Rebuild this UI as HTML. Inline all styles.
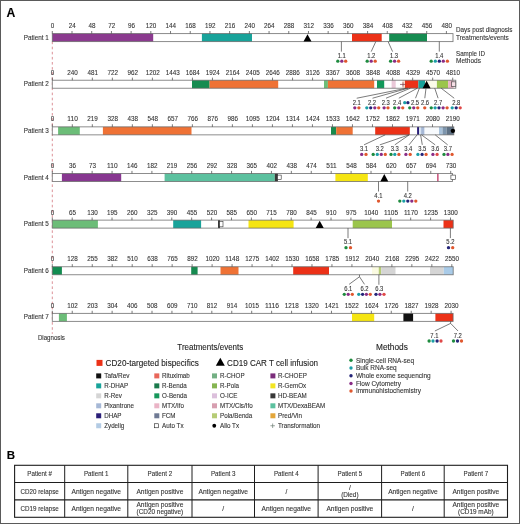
<!DOCTYPE html>
<html><head><meta charset="utf-8"><style>
html,body{margin:0;padding:0;background:#fff;width:520px;height:524px;overflow:hidden;}
svg{display:block;filter:blur(0.3px);}
text{font-family:"Liberation Sans", sans-serif;stroke:currentColor;stroke-width:0.1px;}
</style></head><body>
<svg width="520" height="524" viewBox="0 0 520 524" font-family='"Liberation Sans", sans-serif'><rect x="0" y="0" width="520" height="524" fill="#fff"/><line x1="52.3" y1="41.6" x2="52.3" y2="333.8" stroke="#d47c84" stroke-width="0.85" stroke-dasharray="2.6,2.5"/><text x="48.80" y="39.70" font-size="6.7" text-anchor="end" fill="#333" color="#333" font-weight="normal"  textLength="24.99" lengthAdjust="spacingAndGlyphs">Patient 1</text><rect x="52.3" y="33.6" width="400.70" height="8.0" fill="#fff"/><rect x="52.30" y="33.6" width="100.90" height="8.0" fill="#8b3a8f"/><rect x="201.90" y="33.6" width="50.10" height="8.0" fill="#18a39a"/><rect x="352.00" y="33.6" width="29.70" height="8.0" fill="#ec3117"/><rect x="389.20" y="33.6" width="37.80" height="8.0" fill="#168c51"/><rect x="52.3" y="33.6" width="400.70" height="8.0" fill="none" stroke="#6a6a6a" stroke-width="0.9" stroke-opacity="0.85"/><line x1="52.30" y1="31.00" x2="52.30" y2="33.60" stroke="#444" stroke-width="0.7"/><text x="52.60" y="28.15" font-size="7.0" text-anchor="middle" fill="#333" color="#333" font-weight="normal"  textLength="3.50" lengthAdjust="spacingAndGlyphs">0</text><line x1="72.00" y1="31.00" x2="72.00" y2="33.60" stroke="#444" stroke-width="0.7"/><text x="72.30" y="28.15" font-size="7.0" text-anchor="middle" fill="#333" color="#333" font-weight="normal"  textLength="7.01" lengthAdjust="spacingAndGlyphs">24</text><line x1="91.71" y1="31.00" x2="91.71" y2="33.60" stroke="#444" stroke-width="0.7"/><text x="92.01" y="28.15" font-size="7.0" text-anchor="middle" fill="#333" color="#333" font-weight="normal"  textLength="7.01" lengthAdjust="spacingAndGlyphs">48</text><line x1="111.41" y1="31.00" x2="111.41" y2="33.60" stroke="#444" stroke-width="0.7"/><text x="111.71" y="28.15" font-size="7.0" text-anchor="middle" fill="#333" color="#333" font-weight="normal"  textLength="7.01" lengthAdjust="spacingAndGlyphs">72</text><line x1="131.12" y1="31.00" x2="131.12" y2="33.60" stroke="#444" stroke-width="0.7"/><text x="131.42" y="28.15" font-size="7.0" text-anchor="middle" fill="#333" color="#333" font-weight="normal"  textLength="7.01" lengthAdjust="spacingAndGlyphs">96</text><line x1="150.82" y1="31.00" x2="150.82" y2="33.60" stroke="#444" stroke-width="0.7"/><text x="151.12" y="28.15" font-size="7.0" text-anchor="middle" fill="#333" color="#333" font-weight="normal"  textLength="10.51" lengthAdjust="spacingAndGlyphs">120</text><line x1="170.53" y1="31.00" x2="170.53" y2="33.60" stroke="#444" stroke-width="0.7"/><text x="170.83" y="28.15" font-size="7.0" text-anchor="middle" fill="#333" color="#333" font-weight="normal"  textLength="10.51" lengthAdjust="spacingAndGlyphs">144</text><line x1="190.24" y1="31.00" x2="190.24" y2="33.60" stroke="#444" stroke-width="0.7"/><text x="190.54" y="28.15" font-size="7.0" text-anchor="middle" fill="#333" color="#333" font-weight="normal"  textLength="10.51" lengthAdjust="spacingAndGlyphs">168</text><line x1="209.94" y1="31.00" x2="209.94" y2="33.60" stroke="#444" stroke-width="0.7"/><text x="210.24" y="28.15" font-size="7.0" text-anchor="middle" fill="#333" color="#333" font-weight="normal"  textLength="10.51" lengthAdjust="spacingAndGlyphs">192</text><line x1="229.64" y1="31.00" x2="229.64" y2="33.60" stroke="#444" stroke-width="0.7"/><text x="229.94" y="28.15" font-size="7.0" text-anchor="middle" fill="#333" color="#333" font-weight="normal"  textLength="10.51" lengthAdjust="spacingAndGlyphs">216</text><line x1="249.35" y1="31.00" x2="249.35" y2="33.60" stroke="#444" stroke-width="0.7"/><text x="249.65" y="28.15" font-size="7.0" text-anchor="middle" fill="#333" color="#333" font-weight="normal"  textLength="10.51" lengthAdjust="spacingAndGlyphs">240</text><line x1="269.06" y1="31.00" x2="269.06" y2="33.60" stroke="#444" stroke-width="0.7"/><text x="269.36" y="28.15" font-size="7.0" text-anchor="middle" fill="#333" color="#333" font-weight="normal"  textLength="10.51" lengthAdjust="spacingAndGlyphs">264</text><line x1="288.76" y1="31.00" x2="288.76" y2="33.60" stroke="#444" stroke-width="0.7"/><text x="289.06" y="28.15" font-size="7.0" text-anchor="middle" fill="#333" color="#333" font-weight="normal"  textLength="10.51" lengthAdjust="spacingAndGlyphs">288</text><line x1="308.46" y1="31.00" x2="308.46" y2="33.60" stroke="#444" stroke-width="0.7"/><text x="308.76" y="28.15" font-size="7.0" text-anchor="middle" fill="#333" color="#333" font-weight="normal"  textLength="10.51" lengthAdjust="spacingAndGlyphs">312</text><line x1="328.17" y1="31.00" x2="328.17" y2="33.60" stroke="#444" stroke-width="0.7"/><text x="328.47" y="28.15" font-size="7.0" text-anchor="middle" fill="#333" color="#333" font-weight="normal"  textLength="10.51" lengthAdjust="spacingAndGlyphs">336</text><line x1="347.88" y1="31.00" x2="347.88" y2="33.60" stroke="#444" stroke-width="0.7"/><text x="348.18" y="28.15" font-size="7.0" text-anchor="middle" fill="#333" color="#333" font-weight="normal"  textLength="10.51" lengthAdjust="spacingAndGlyphs">360</text><line x1="367.58" y1="31.00" x2="367.58" y2="33.60" stroke="#444" stroke-width="0.7"/><text x="367.88" y="28.15" font-size="7.0" text-anchor="middle" fill="#333" color="#333" font-weight="normal"  textLength="10.51" lengthAdjust="spacingAndGlyphs">384</text><line x1="387.28" y1="31.00" x2="387.28" y2="33.60" stroke="#444" stroke-width="0.7"/><text x="387.58" y="28.15" font-size="7.0" text-anchor="middle" fill="#333" color="#333" font-weight="normal"  textLength="10.51" lengthAdjust="spacingAndGlyphs">408</text><line x1="406.99" y1="31.00" x2="406.99" y2="33.60" stroke="#444" stroke-width="0.7"/><text x="407.29" y="28.15" font-size="7.0" text-anchor="middle" fill="#333" color="#333" font-weight="normal"  textLength="10.51" lengthAdjust="spacingAndGlyphs">432</text><line x1="426.69" y1="31.00" x2="426.69" y2="33.60" stroke="#444" stroke-width="0.7"/><text x="427.00" y="28.15" font-size="7.0" text-anchor="middle" fill="#333" color="#333" font-weight="normal"  textLength="10.51" lengthAdjust="spacingAndGlyphs">456</text><line x1="446.40" y1="31.00" x2="446.40" y2="33.60" stroke="#444" stroke-width="0.7"/><text x="446.70" y="28.15" font-size="7.0" text-anchor="middle" fill="#333" color="#333" font-weight="normal"  textLength="10.51" lengthAdjust="spacingAndGlyphs">480</text><polygon points="303.50,41.60 311.50,41.60 307.50,34.20" fill="#000"/><line x1="341.40" y1="41.60" x2="341.40" y2="51.60" stroke="#444" stroke-width="0.7"/><text x="341.70" y="57.90" font-size="6.6" text-anchor="middle" fill="#333" color="#333" font-weight="normal"  textLength="8.13" lengthAdjust="spacingAndGlyphs">1.1</text><circle cx="337.80" cy="61.20" r="1.65" fill="#1e8b3e"/><circle cx="341.80" cy="61.20" r="1.65" fill="#8a2c86"/><circle cx="345.70" cy="61.20" r="1.65" fill="#e0572e"/><line x1="375.80" y1="41.60" x2="371.20" y2="51.60" stroke="#444" stroke-width="0.7"/><text x="371.20" y="57.90" font-size="6.6" text-anchor="middle" fill="#333" color="#333" font-weight="normal"  textLength="8.13" lengthAdjust="spacingAndGlyphs">1.2</text><circle cx="367.20" cy="61.20" r="1.65" fill="#1e8b3e"/><circle cx="371.20" cy="61.20" r="1.65" fill="#8a2c86"/><circle cx="375.20" cy="61.20" r="1.65" fill="#e0572e"/><line x1="388.10" y1="41.60" x2="392.60" y2="51.60" stroke="#444" stroke-width="0.7"/><text x="394.00" y="57.90" font-size="6.6" text-anchor="middle" fill="#333" color="#333" font-weight="normal"  textLength="8.13" lengthAdjust="spacingAndGlyphs">1.3</text><circle cx="390.60" cy="61.20" r="1.65" fill="#1e8b3e"/><circle cx="394.60" cy="61.20" r="1.65" fill="#8a2c86"/><circle cx="398.60" cy="61.20" r="1.65" fill="#e0572e"/><line x1="439.30" y1="41.60" x2="439.30" y2="51.60" stroke="#444" stroke-width="0.7"/><text x="439.30" y="57.90" font-size="6.6" text-anchor="middle" fill="#333" color="#333" font-weight="normal"  textLength="8.13" lengthAdjust="spacingAndGlyphs">1.4</text><circle cx="431.20" cy="61.20" r="1.65" fill="#1e8b3e"/><circle cx="435.30" cy="61.20" r="1.65" fill="#1b9fa6"/><circle cx="439.30" cy="61.20" r="1.65" fill="#242478"/><circle cx="443.30" cy="61.20" r="1.65" fill="#8a2c86"/><circle cx="447.40" cy="61.20" r="1.65" fill="#e0572e"/><text x="48.80" y="86.33" font-size="6.7" text-anchor="end" fill="#333" color="#333" font-weight="normal"  textLength="24.99" lengthAdjust="spacingAndGlyphs">Patient 2</text><rect x="52.3" y="80.23" width="403.50" height="8.0" fill="#fff"/><rect x="192.00" y="80.23" width="17.60" height="8.0" fill="#168c51"/><rect x="209.60" y="80.23" width="68.60" height="8.0" fill="#ef7235"/><rect x="324.00" y="80.23" width="3.90" height="8.0" fill="#6cbd78"/><rect x="327.90" y="80.23" width="46.30" height="8.0" fill="#ef7235"/><rect x="377.00" y="80.23" width="7.20" height="8.0" fill="#12995a"/><rect x="391.60" y="80.23" width="4.10" height="8.0" fill="#eac8d8"/><rect x="402.30" y="80.23" width="2.70" height="8.0" fill="#f8d9c9"/><rect x="405.00" y="80.23" width="13.40" height="8.0" fill="#ec3117"/><rect x="418.40" y="80.23" width="6.60" height="8.0" fill="#18a39a"/><rect x="425.00" y="80.23" width="11.90" height="8.0" fill="#fbfbe8"/><rect x="436.90" y="80.23" width="11.20" height="8.0" fill="#9bc54c"/><rect x="448.10" y="80.23" width="5.40" height="8.0" fill="#eab4c6"/><rect x="52.3" y="80.23" width="403.50" height="8.0" fill="none" stroke="#6a6a6a" stroke-width="0.9" stroke-opacity="0.85"/><line x1="52.30" y1="77.63" x2="52.30" y2="80.23" stroke="#444" stroke-width="0.7"/><text x="52.60" y="74.78" font-size="7.0" text-anchor="middle" fill="#333" color="#333" font-weight="normal"  textLength="3.50" lengthAdjust="spacingAndGlyphs">0</text><line x1="72.32" y1="77.63" x2="72.32" y2="80.23" stroke="#444" stroke-width="0.7"/><text x="72.62" y="74.78" font-size="7.0" text-anchor="middle" fill="#333" color="#333" font-weight="normal"  textLength="10.51" lengthAdjust="spacingAndGlyphs">240</text><line x1="92.34" y1="77.63" x2="92.34" y2="80.23" stroke="#444" stroke-width="0.7"/><text x="92.64" y="74.78" font-size="7.0" text-anchor="middle" fill="#333" color="#333" font-weight="normal"  textLength="10.51" lengthAdjust="spacingAndGlyphs">481</text><line x1="112.36" y1="77.63" x2="112.36" y2="80.23" stroke="#444" stroke-width="0.7"/><text x="112.66" y="74.78" font-size="7.0" text-anchor="middle" fill="#333" color="#333" font-weight="normal"  textLength="10.51" lengthAdjust="spacingAndGlyphs">722</text><line x1="132.38" y1="77.63" x2="132.38" y2="80.23" stroke="#444" stroke-width="0.7"/><text x="132.68" y="74.78" font-size="7.0" text-anchor="middle" fill="#333" color="#333" font-weight="normal"  textLength="10.51" lengthAdjust="spacingAndGlyphs">962</text><line x1="152.40" y1="77.63" x2="152.40" y2="80.23" stroke="#444" stroke-width="0.7"/><text x="152.70" y="74.78" font-size="7.0" text-anchor="middle" fill="#333" color="#333" font-weight="normal"  textLength="14.02" lengthAdjust="spacingAndGlyphs">1202</text><line x1="172.42" y1="77.63" x2="172.42" y2="80.23" stroke="#444" stroke-width="0.7"/><text x="172.72" y="74.78" font-size="7.0" text-anchor="middle" fill="#333" color="#333" font-weight="normal"  textLength="14.02" lengthAdjust="spacingAndGlyphs">1443</text><line x1="192.44" y1="77.63" x2="192.44" y2="80.23" stroke="#444" stroke-width="0.7"/><text x="192.74" y="74.78" font-size="7.0" text-anchor="middle" fill="#333" color="#333" font-weight="normal"  textLength="14.02" lengthAdjust="spacingAndGlyphs">1684</text><line x1="212.46" y1="77.63" x2="212.46" y2="80.23" stroke="#444" stroke-width="0.7"/><text x="212.76" y="74.78" font-size="7.0" text-anchor="middle" fill="#333" color="#333" font-weight="normal"  textLength="14.02" lengthAdjust="spacingAndGlyphs">1924</text><line x1="232.48" y1="77.63" x2="232.48" y2="80.23" stroke="#444" stroke-width="0.7"/><text x="232.78" y="74.78" font-size="7.0" text-anchor="middle" fill="#333" color="#333" font-weight="normal"  textLength="14.02" lengthAdjust="spacingAndGlyphs">2164</text><line x1="252.50" y1="77.63" x2="252.50" y2="80.23" stroke="#444" stroke-width="0.7"/><text x="252.80" y="74.78" font-size="7.0" text-anchor="middle" fill="#333" color="#333" font-weight="normal"  textLength="14.02" lengthAdjust="spacingAndGlyphs">2405</text><line x1="272.52" y1="77.63" x2="272.52" y2="80.23" stroke="#444" stroke-width="0.7"/><text x="272.82" y="74.78" font-size="7.0" text-anchor="middle" fill="#333" color="#333" font-weight="normal"  textLength="14.02" lengthAdjust="spacingAndGlyphs">2646</text><line x1="292.54" y1="77.63" x2="292.54" y2="80.23" stroke="#444" stroke-width="0.7"/><text x="292.84" y="74.78" font-size="7.0" text-anchor="middle" fill="#333" color="#333" font-weight="normal"  textLength="14.02" lengthAdjust="spacingAndGlyphs">2886</text><line x1="312.56" y1="77.63" x2="312.56" y2="80.23" stroke="#444" stroke-width="0.7"/><text x="312.86" y="74.78" font-size="7.0" text-anchor="middle" fill="#333" color="#333" font-weight="normal"  textLength="14.02" lengthAdjust="spacingAndGlyphs">3126</text><line x1="332.58" y1="77.63" x2="332.58" y2="80.23" stroke="#444" stroke-width="0.7"/><text x="332.88" y="74.78" font-size="7.0" text-anchor="middle" fill="#333" color="#333" font-weight="normal"  textLength="14.02" lengthAdjust="spacingAndGlyphs">3367</text><line x1="352.60" y1="77.63" x2="352.60" y2="80.23" stroke="#444" stroke-width="0.7"/><text x="352.90" y="74.78" font-size="7.0" text-anchor="middle" fill="#333" color="#333" font-weight="normal"  textLength="14.02" lengthAdjust="spacingAndGlyphs">3608</text><line x1="372.62" y1="77.63" x2="372.62" y2="80.23" stroke="#444" stroke-width="0.7"/><text x="372.92" y="74.78" font-size="7.0" text-anchor="middle" fill="#333" color="#333" font-weight="normal"  textLength="14.02" lengthAdjust="spacingAndGlyphs">3848</text><line x1="392.64" y1="77.63" x2="392.64" y2="80.23" stroke="#444" stroke-width="0.7"/><text x="392.94" y="74.78" font-size="7.0" text-anchor="middle" fill="#333" color="#333" font-weight="normal"  textLength="14.02" lengthAdjust="spacingAndGlyphs">4088</text><line x1="412.66" y1="77.63" x2="412.66" y2="80.23" stroke="#444" stroke-width="0.7"/><text x="412.96" y="74.78" font-size="7.0" text-anchor="middle" fill="#333" color="#333" font-weight="normal"  textLength="14.02" lengthAdjust="spacingAndGlyphs">4329</text><line x1="432.68" y1="77.63" x2="432.68" y2="80.23" stroke="#444" stroke-width="0.7"/><text x="432.98" y="74.78" font-size="7.0" text-anchor="middle" fill="#333" color="#333" font-weight="normal"  textLength="14.02" lengthAdjust="spacingAndGlyphs">4570</text><line x1="452.70" y1="77.63" x2="452.70" y2="80.23" stroke="#444" stroke-width="0.7"/><text x="453.00" y="74.78" font-size="7.0" text-anchor="middle" fill="#333" color="#333" font-weight="normal"  textLength="14.02" lengthAdjust="spacingAndGlyphs">4810</text><rect x="451.50" y="81.83" width="4.30" height="4.6" fill="#f6dfe6" stroke="#333" stroke-width="0.6"/><polygon points="422.60,88.23 430.60,88.23 426.60,80.83" fill="#000"/><path d="M400.00,84.43H405.50M403.00,82.23V86.63" stroke="#7a3848" stroke-width="0.7"/><line x1="406.50" y1="88.23" x2="356.70" y2="98.23" stroke="#444" stroke-width="0.7"/><text x="356.70" y="104.53" font-size="6.6" text-anchor="middle" fill="#333" color="#333" font-weight="normal"  textLength="8.13" lengthAdjust="spacingAndGlyphs">2.1</text><circle cx="354.80" cy="107.83" r="1.65" fill="#8a2c86"/><circle cx="358.90" cy="107.83" r="1.65" fill="#e0572e"/><line x1="408.00" y1="88.23" x2="372.50" y2="98.23" stroke="#444" stroke-width="0.7"/><text x="372.00" y="104.53" font-size="6.6" text-anchor="middle" fill="#333" color="#333" font-weight="normal"  textLength="8.13" lengthAdjust="spacingAndGlyphs">2.2</text><circle cx="366.80" cy="107.83" r="1.65" fill="#1b9fa6"/><circle cx="370.70" cy="107.83" r="1.65" fill="#242478"/><circle cx="374.80" cy="107.83" r="1.65" fill="#8a2c86"/><circle cx="378.70" cy="107.83" r="1.65" fill="#e0572e"/><line x1="410.40" y1="88.23" x2="386.00" y2="98.23" stroke="#444" stroke-width="0.7"/><text x="385.80" y="104.53" font-size="6.6" text-anchor="middle" fill="#333" color="#333" font-weight="normal"  textLength="8.13" lengthAdjust="spacingAndGlyphs">2.3</text><circle cx="384.10" cy="107.83" r="1.65" fill="#8a2c86"/><circle cx="388.00" cy="107.83" r="1.65" fill="#e0572e"/><line x1="417.30" y1="88.23" x2="398.80" y2="98.23" stroke="#444" stroke-width="0.7"/><text x="397.10" y="104.53" font-size="6.6" text-anchor="middle" fill="#333" color="#333" font-weight="normal"  textLength="8.13" lengthAdjust="spacingAndGlyphs">2.4</text><circle cx="394.70" cy="107.83" r="1.65" fill="#1e8b3e"/><circle cx="398.75" cy="107.83" r="1.65" fill="#8a2c86"/><circle cx="402.75" cy="107.83" r="1.65" fill="#e0572e"/><line x1="419.40" y1="88.23" x2="415.50" y2="98.23" stroke="#444" stroke-width="0.7"/><text x="415.00" y="104.53" font-size="6.6" text-anchor="middle" fill="#333" color="#333" font-weight="normal"  textLength="8.13" lengthAdjust="spacingAndGlyphs">2.5</text><circle cx="409.75" cy="107.83" r="1.65" fill="#1e8b3e"/><circle cx="413.75" cy="107.83" r="1.65" fill="#8a2c86"/><circle cx="417.75" cy="107.83" r="1.65" fill="#e0572e"/><line x1="426.00" y1="88.23" x2="424.80" y2="98.23" stroke="#444" stroke-width="0.7"/><text x="425.00" y="104.53" font-size="6.6" text-anchor="middle" fill="#333" color="#333" font-weight="normal"  textLength="8.13" lengthAdjust="spacingAndGlyphs">2.6</text><circle cx="424.75" cy="107.83" r="1.65" fill="#e0572e"/><line x1="434.75" y1="88.23" x2="438.10" y2="98.23" stroke="#444" stroke-width="0.7"/><text x="438.10" y="104.53" font-size="6.6" text-anchor="middle" fill="#333" color="#333" font-weight="normal"  textLength="8.13" lengthAdjust="spacingAndGlyphs">2.7</text><circle cx="431.25" cy="107.83" r="1.65" fill="#1e8b3e"/><circle cx="435.10" cy="107.83" r="1.65" fill="#1b9fa6"/><circle cx="439.00" cy="107.83" r="1.65" fill="#242478"/><circle cx="443.10" cy="107.83" r="1.65" fill="#8a2c86"/><circle cx="447.10" cy="107.83" r="1.65" fill="#e0572e"/><line x1="441.20" y1="88.23" x2="454.20" y2="98.23" stroke="#444" stroke-width="0.7"/><text x="456.20" y="104.53" font-size="6.6" text-anchor="middle" fill="#333" color="#333" font-weight="normal"  textLength="8.13" lengthAdjust="spacingAndGlyphs">2.8</text><circle cx="452.20" cy="107.83" r="1.65" fill="#1b9fa6"/><circle cx="456.20" cy="107.83" r="1.65" fill="#242478"/><circle cx="460.20" cy="107.83" r="1.65" fill="#e04848"/><circle cx="404.75" cy="102.63" r="1.65" fill="#1b9fa6"/><circle cx="407.90" cy="102.63" r="1.65" fill="#242478"/><text x="48.80" y="132.96" font-size="6.7" text-anchor="end" fill="#333" color="#333" font-weight="normal"  textLength="24.99" lengthAdjust="spacingAndGlyphs">Patient 3</text><rect x="52.3" y="126.86000000000001" width="401.50" height="8.0" fill="#fff"/><rect x="58.10" y="126.86000000000001" width="21.70" height="8.0" fill="#6cbd78"/><rect x="102.90" y="126.86000000000001" width="88.60" height="8.0" fill="#ef7235"/><rect x="331.00" y="126.86000000000001" width="5.20" height="8.0" fill="#198a4c"/><rect x="336.20" y="126.86000000000001" width="16.50" height="8.0" fill="#ef7235"/><rect x="375.20" y="126.86000000000001" width="34.60" height="8.0" fill="#ec3117"/><rect x="417.10" y="126.86000000000001" width="2.00" height="8.0" fill="#2a1e78"/><rect x="419.10" y="126.86000000000001" width="2.00" height="8.0" fill="#d8e4f2"/><rect x="421.10" y="126.86000000000001" width="3.50" height="8.0" fill="#a6b8d6"/><rect x="424.60" y="126.86000000000001" width="14.40" height="8.0" fill="#f7fafd"/><rect x="439.00" y="126.86000000000001" width="3.50" height="8.0" fill="#a9c3dc"/><rect x="442.50" y="126.86000000000001" width="4.00" height="8.0" fill="#7d95ad"/><rect x="446.50" y="126.86000000000001" width="7.30" height="8.0" fill="#5f7286"/><rect x="52.3" y="126.86000000000001" width="401.50" height="8.0" fill="none" stroke="#6a6a6a" stroke-width="0.9" stroke-opacity="0.85"/><line x1="52.30" y1="124.26" x2="52.30" y2="126.86" stroke="#444" stroke-width="0.7"/><text x="52.60" y="121.41" font-size="7.0" text-anchor="middle" fill="#333" color="#333" font-weight="normal"  textLength="3.50" lengthAdjust="spacingAndGlyphs">0</text><line x1="72.31" y1="124.26" x2="72.31" y2="126.86" stroke="#444" stroke-width="0.7"/><text x="72.61" y="121.41" font-size="7.0" text-anchor="middle" fill="#333" color="#333" font-weight="normal"  textLength="10.51" lengthAdjust="spacingAndGlyphs">110</text><line x1="92.32" y1="124.26" x2="92.32" y2="126.86" stroke="#444" stroke-width="0.7"/><text x="92.62" y="121.41" font-size="7.0" text-anchor="middle" fill="#333" color="#333" font-weight="normal"  textLength="10.51" lengthAdjust="spacingAndGlyphs">219</text><line x1="112.33" y1="124.26" x2="112.33" y2="126.86" stroke="#444" stroke-width="0.7"/><text x="112.63" y="121.41" font-size="7.0" text-anchor="middle" fill="#333" color="#333" font-weight="normal"  textLength="10.51" lengthAdjust="spacingAndGlyphs">328</text><line x1="132.34" y1="124.26" x2="132.34" y2="126.86" stroke="#444" stroke-width="0.7"/><text x="132.64" y="121.41" font-size="7.0" text-anchor="middle" fill="#333" color="#333" font-weight="normal"  textLength="10.51" lengthAdjust="spacingAndGlyphs">438</text><line x1="152.35" y1="124.26" x2="152.35" y2="126.86" stroke="#444" stroke-width="0.7"/><text x="152.65" y="121.41" font-size="7.0" text-anchor="middle" fill="#333" color="#333" font-weight="normal"  textLength="10.51" lengthAdjust="spacingAndGlyphs">548</text><line x1="172.36" y1="124.26" x2="172.36" y2="126.86" stroke="#444" stroke-width="0.7"/><text x="172.66" y="121.41" font-size="7.0" text-anchor="middle" fill="#333" color="#333" font-weight="normal"  textLength="10.51" lengthAdjust="spacingAndGlyphs">657</text><line x1="192.37" y1="124.26" x2="192.37" y2="126.86" stroke="#444" stroke-width="0.7"/><text x="192.67" y="121.41" font-size="7.0" text-anchor="middle" fill="#333" color="#333" font-weight="normal"  textLength="10.51" lengthAdjust="spacingAndGlyphs">766</text><line x1="212.38" y1="124.26" x2="212.38" y2="126.86" stroke="#444" stroke-width="0.7"/><text x="212.68" y="121.41" font-size="7.0" text-anchor="middle" fill="#333" color="#333" font-weight="normal"  textLength="10.51" lengthAdjust="spacingAndGlyphs">876</text><line x1="232.39" y1="124.26" x2="232.39" y2="126.86" stroke="#444" stroke-width="0.7"/><text x="232.69" y="121.41" font-size="7.0" text-anchor="middle" fill="#333" color="#333" font-weight="normal"  textLength="10.51" lengthAdjust="spacingAndGlyphs">986</text><line x1="252.40" y1="124.26" x2="252.40" y2="126.86" stroke="#444" stroke-width="0.7"/><text x="252.70" y="121.41" font-size="7.0" text-anchor="middle" fill="#333" color="#333" font-weight="normal"  textLength="14.02" lengthAdjust="spacingAndGlyphs">1095</text><line x1="272.41" y1="124.26" x2="272.41" y2="126.86" stroke="#444" stroke-width="0.7"/><text x="272.71" y="121.41" font-size="7.0" text-anchor="middle" fill="#333" color="#333" font-weight="normal"  textLength="14.02" lengthAdjust="spacingAndGlyphs">1204</text><line x1="292.42" y1="124.26" x2="292.42" y2="126.86" stroke="#444" stroke-width="0.7"/><text x="292.72" y="121.41" font-size="7.0" text-anchor="middle" fill="#333" color="#333" font-weight="normal"  textLength="14.02" lengthAdjust="spacingAndGlyphs">1314</text><line x1="312.43" y1="124.26" x2="312.43" y2="126.86" stroke="#444" stroke-width="0.7"/><text x="312.73" y="121.41" font-size="7.0" text-anchor="middle" fill="#333" color="#333" font-weight="normal"  textLength="14.02" lengthAdjust="spacingAndGlyphs">1424</text><line x1="332.44" y1="124.26" x2="332.44" y2="126.86" stroke="#444" stroke-width="0.7"/><text x="332.74" y="121.41" font-size="7.0" text-anchor="middle" fill="#333" color="#333" font-weight="normal"  textLength="14.02" lengthAdjust="spacingAndGlyphs">1533</text><line x1="352.45" y1="124.26" x2="352.45" y2="126.86" stroke="#444" stroke-width="0.7"/><text x="352.75" y="121.41" font-size="7.0" text-anchor="middle" fill="#333" color="#333" font-weight="normal"  textLength="14.02" lengthAdjust="spacingAndGlyphs">1642</text><line x1="372.46" y1="124.26" x2="372.46" y2="126.86" stroke="#444" stroke-width="0.7"/><text x="372.76" y="121.41" font-size="7.0" text-anchor="middle" fill="#333" color="#333" font-weight="normal"  textLength="14.02" lengthAdjust="spacingAndGlyphs">1752</text><line x1="392.47" y1="124.26" x2="392.47" y2="126.86" stroke="#444" stroke-width="0.7"/><text x="392.77" y="121.41" font-size="7.0" text-anchor="middle" fill="#333" color="#333" font-weight="normal"  textLength="14.02" lengthAdjust="spacingAndGlyphs">1862</text><line x1="412.48" y1="124.26" x2="412.48" y2="126.86" stroke="#444" stroke-width="0.7"/><text x="412.78" y="121.41" font-size="7.0" text-anchor="middle" fill="#333" color="#333" font-weight="normal"  textLength="14.02" lengthAdjust="spacingAndGlyphs">1971</text><line x1="432.49" y1="124.26" x2="432.49" y2="126.86" stroke="#444" stroke-width="0.7"/><text x="432.79" y="121.41" font-size="7.0" text-anchor="middle" fill="#333" color="#333" font-weight="normal"  textLength="14.02" lengthAdjust="spacingAndGlyphs">2080</text><line x1="452.50" y1="124.26" x2="452.50" y2="126.86" stroke="#444" stroke-width="0.7"/><text x="452.80" y="121.41" font-size="7.0" text-anchor="middle" fill="#333" color="#333" font-weight="normal"  textLength="14.02" lengthAdjust="spacingAndGlyphs">2190</text><circle cx="452.9" cy="130.86" r="2.2" fill="#000"/><line x1="385.20" y1="134.86" x2="364.00" y2="144.86" stroke="#444" stroke-width="0.7"/><text x="364.00" y="151.16" font-size="6.6" text-anchor="middle" fill="#333" color="#333" font-weight="normal"  textLength="8.13" lengthAdjust="spacingAndGlyphs">3.1</text><circle cx="361.70" cy="154.46" r="1.65" fill="#8a2c86"/><circle cx="366.00" cy="154.46" r="1.65" fill="#e0572e"/><line x1="409.00" y1="134.86" x2="379.80" y2="144.86" stroke="#444" stroke-width="0.7"/><text x="379.80" y="151.16" font-size="6.6" text-anchor="middle" fill="#333" color="#333" font-weight="normal"  textLength="8.13" lengthAdjust="spacingAndGlyphs">3.2</text><circle cx="373.20" cy="154.46" r="1.65" fill="#1e8b3e"/><circle cx="377.30" cy="154.46" r="1.65" fill="#1b9fa6"/><circle cx="381.30" cy="154.46" r="1.65" fill="#8a2c86"/><circle cx="385.30" cy="154.46" r="1.65" fill="#e0572e"/><line x1="409.20" y1="134.86" x2="394.80" y2="144.86" stroke="#444" stroke-width="0.7"/><text x="394.80" y="151.16" font-size="6.6" text-anchor="middle" fill="#333" color="#333" font-weight="normal"  textLength="8.13" lengthAdjust="spacingAndGlyphs">3.3</text><circle cx="391.00" cy="154.46" r="1.65" fill="#1e8b3e"/><circle cx="394.80" cy="154.46" r="1.65" fill="#1b9fa6"/><circle cx="398.90" cy="154.46" r="1.65" fill="#e0572e"/><line x1="417.10" y1="134.86" x2="409.00" y2="144.86" stroke="#444" stroke-width="0.7"/><text x="408.30" y="151.16" font-size="6.6" text-anchor="middle" fill="#333" color="#333" font-weight="normal"  textLength="8.13" lengthAdjust="spacingAndGlyphs">3.4</text><circle cx="405.90" cy="154.46" r="1.65" fill="#8a2c86"/><circle cx="410.20" cy="154.46" r="1.65" fill="#e0572e"/><line x1="420.60" y1="134.86" x2="422.30" y2="144.86" stroke="#444" stroke-width="0.7"/><text x="422.30" y="151.16" font-size="6.6" text-anchor="middle" fill="#333" color="#333" font-weight="normal"  textLength="8.13" lengthAdjust="spacingAndGlyphs">3.5</text><circle cx="417.90" cy="154.46" r="1.65" fill="#1b9fa6"/><circle cx="422.10" cy="154.46" r="1.65" fill="#242478"/><circle cx="426.10" cy="154.46" r="1.65" fill="#e0572e"/><line x1="421.50" y1="134.86" x2="435.20" y2="144.86" stroke="#444" stroke-width="0.7"/><text x="435.20" y="151.16" font-size="6.6" text-anchor="middle" fill="#333" color="#333" font-weight="normal"  textLength="8.13" lengthAdjust="spacingAndGlyphs">3.6</text><circle cx="432.90" cy="154.46" r="1.65" fill="#8a2c86"/><circle cx="437.10" cy="154.46" r="1.65" fill="#e04848"/><line x1="435.20" y1="134.86" x2="447.70" y2="144.86" stroke="#444" stroke-width="0.7"/><text x="447.90" y="151.16" font-size="6.6" text-anchor="middle" fill="#333" color="#333" font-weight="normal"  textLength="8.13" lengthAdjust="spacingAndGlyphs">3.7</text><circle cx="444.00" cy="154.46" r="1.65" fill="#1e8b3e"/><circle cx="447.90" cy="154.46" r="1.65" fill="#8a2c86"/><circle cx="452.10" cy="154.46" r="1.65" fill="#e0572e"/><text x="48.80" y="179.59" font-size="6.7" text-anchor="end" fill="#333" color="#333" font-weight="normal"  textLength="24.99" lengthAdjust="spacingAndGlyphs">Patient 4</text><rect x="52.3" y="173.49" width="400.20" height="8.0" fill="#fff"/><rect x="61.90" y="173.49" width="59.30" height="8.0" fill="#873790"/><rect x="164.60" y="173.49" width="110.20" height="8.0" fill="#5cc19f"/><rect x="274.80" y="173.49" width="3.10" height="8.0" fill="#383838"/><rect x="335.40" y="173.49" width="32.40" height="8.0" fill="#f5e512"/><rect x="437.10" y="173.49" width="1.50" height="8.0" fill="#c8507a"/><rect x="52.3" y="173.49" width="400.20" height="8.0" fill="none" stroke="#6a6a6a" stroke-width="0.9" stroke-opacity="0.85"/><line x1="52.30" y1="170.89" x2="52.30" y2="173.49" stroke="#444" stroke-width="0.7"/><text x="52.60" y="168.04" font-size="7.0" text-anchor="middle" fill="#333" color="#333" font-weight="normal"  textLength="3.50" lengthAdjust="spacingAndGlyphs">0</text><line x1="72.22" y1="170.89" x2="72.22" y2="173.49" stroke="#444" stroke-width="0.7"/><text x="72.52" y="168.04" font-size="7.0" text-anchor="middle" fill="#333" color="#333" font-weight="normal"  textLength="7.01" lengthAdjust="spacingAndGlyphs">36</text><line x1="92.14" y1="170.89" x2="92.14" y2="173.49" stroke="#444" stroke-width="0.7"/><text x="92.44" y="168.04" font-size="7.0" text-anchor="middle" fill="#333" color="#333" font-weight="normal"  textLength="7.01" lengthAdjust="spacingAndGlyphs">73</text><line x1="112.06" y1="170.89" x2="112.06" y2="173.49" stroke="#444" stroke-width="0.7"/><text x="112.36" y="168.04" font-size="7.0" text-anchor="middle" fill="#333" color="#333" font-weight="normal"  textLength="10.51" lengthAdjust="spacingAndGlyphs">110</text><line x1="131.98" y1="170.89" x2="131.98" y2="173.49" stroke="#444" stroke-width="0.7"/><text x="132.28" y="168.04" font-size="7.0" text-anchor="middle" fill="#333" color="#333" font-weight="normal"  textLength="10.51" lengthAdjust="spacingAndGlyphs">146</text><line x1="151.90" y1="170.89" x2="151.90" y2="173.49" stroke="#444" stroke-width="0.7"/><text x="152.20" y="168.04" font-size="7.0" text-anchor="middle" fill="#333" color="#333" font-weight="normal"  textLength="10.51" lengthAdjust="spacingAndGlyphs">182</text><line x1="171.82" y1="170.89" x2="171.82" y2="173.49" stroke="#444" stroke-width="0.7"/><text x="172.12" y="168.04" font-size="7.0" text-anchor="middle" fill="#333" color="#333" font-weight="normal"  textLength="10.51" lengthAdjust="spacingAndGlyphs">219</text><line x1="191.74" y1="170.89" x2="191.74" y2="173.49" stroke="#444" stroke-width="0.7"/><text x="192.04" y="168.04" font-size="7.0" text-anchor="middle" fill="#333" color="#333" font-weight="normal"  textLength="10.51" lengthAdjust="spacingAndGlyphs">256</text><line x1="211.66" y1="170.89" x2="211.66" y2="173.49" stroke="#444" stroke-width="0.7"/><text x="211.96" y="168.04" font-size="7.0" text-anchor="middle" fill="#333" color="#333" font-weight="normal"  textLength="10.51" lengthAdjust="spacingAndGlyphs">292</text><line x1="231.58" y1="170.89" x2="231.58" y2="173.49" stroke="#444" stroke-width="0.7"/><text x="231.88" y="168.04" font-size="7.0" text-anchor="middle" fill="#333" color="#333" font-weight="normal"  textLength="10.51" lengthAdjust="spacingAndGlyphs">328</text><line x1="251.50" y1="170.89" x2="251.50" y2="173.49" stroke="#444" stroke-width="0.7"/><text x="251.80" y="168.04" font-size="7.0" text-anchor="middle" fill="#333" color="#333" font-weight="normal"  textLength="10.51" lengthAdjust="spacingAndGlyphs">365</text><line x1="271.42" y1="170.89" x2="271.42" y2="173.49" stroke="#444" stroke-width="0.7"/><text x="271.72" y="168.04" font-size="7.0" text-anchor="middle" fill="#333" color="#333" font-weight="normal"  textLength="10.51" lengthAdjust="spacingAndGlyphs">402</text><line x1="291.34" y1="170.89" x2="291.34" y2="173.49" stroke="#444" stroke-width="0.7"/><text x="291.64" y="168.04" font-size="7.0" text-anchor="middle" fill="#333" color="#333" font-weight="normal"  textLength="10.51" lengthAdjust="spacingAndGlyphs">438</text><line x1="311.26" y1="170.89" x2="311.26" y2="173.49" stroke="#444" stroke-width="0.7"/><text x="311.56" y="168.04" font-size="7.0" text-anchor="middle" fill="#333" color="#333" font-weight="normal"  textLength="10.51" lengthAdjust="spacingAndGlyphs">474</text><line x1="331.18" y1="170.89" x2="331.18" y2="173.49" stroke="#444" stroke-width="0.7"/><text x="331.48" y="168.04" font-size="7.0" text-anchor="middle" fill="#333" color="#333" font-weight="normal"  textLength="10.51" lengthAdjust="spacingAndGlyphs">511</text><line x1="351.10" y1="170.89" x2="351.10" y2="173.49" stroke="#444" stroke-width="0.7"/><text x="351.40" y="168.04" font-size="7.0" text-anchor="middle" fill="#333" color="#333" font-weight="normal"  textLength="10.51" lengthAdjust="spacingAndGlyphs">548</text><line x1="371.02" y1="170.89" x2="371.02" y2="173.49" stroke="#444" stroke-width="0.7"/><text x="371.32" y="168.04" font-size="7.0" text-anchor="middle" fill="#333" color="#333" font-weight="normal"  textLength="10.51" lengthAdjust="spacingAndGlyphs">584</text><line x1="390.94" y1="170.89" x2="390.94" y2="173.49" stroke="#444" stroke-width="0.7"/><text x="391.24" y="168.04" font-size="7.0" text-anchor="middle" fill="#333" color="#333" font-weight="normal"  textLength="10.51" lengthAdjust="spacingAndGlyphs">620</text><line x1="410.86" y1="170.89" x2="410.86" y2="173.49" stroke="#444" stroke-width="0.7"/><text x="411.16" y="168.04" font-size="7.0" text-anchor="middle" fill="#333" color="#333" font-weight="normal"  textLength="10.51" lengthAdjust="spacingAndGlyphs">657</text><line x1="430.78" y1="170.89" x2="430.78" y2="173.49" stroke="#444" stroke-width="0.7"/><text x="431.08" y="168.04" font-size="7.0" text-anchor="middle" fill="#333" color="#333" font-weight="normal"  textLength="10.51" lengthAdjust="spacingAndGlyphs">694</text><line x1="450.70" y1="170.89" x2="450.70" y2="173.49" stroke="#444" stroke-width="0.7"/><text x="451.00" y="168.04" font-size="7.0" text-anchor="middle" fill="#333" color="#333" font-weight="normal"  textLength="10.51" lengthAdjust="spacingAndGlyphs">730</text><rect x="277.60" y="175.09" width="3.60" height="4.4" fill="#fff" stroke="#333" stroke-width="0.6"/><rect x="450.90" y="175.09" width="4.60" height="4.4" fill="#fff" stroke="#333" stroke-width="0.6"/><polygon points="380.30,181.49 388.30,181.49 384.30,174.09" fill="#000"/><line x1="378.50" y1="181.49" x2="378.50" y2="191.49" stroke="#444" stroke-width="0.7"/><text x="378.40" y="197.79" font-size="6.6" text-anchor="middle" fill="#333" color="#333" font-weight="normal"  textLength="8.13" lengthAdjust="spacingAndGlyphs">4.1</text><circle cx="378.50" cy="201.09" r="1.65" fill="#e0572e"/><line x1="407.70" y1="181.49" x2="407.70" y2="191.49" stroke="#444" stroke-width="0.7"/><text x="407.70" y="197.79" font-size="6.6" text-anchor="middle" fill="#333" color="#333" font-weight="normal"  textLength="8.13" lengthAdjust="spacingAndGlyphs">4.2</text><circle cx="399.80" cy="201.09" r="1.65" fill="#1e8b3e"/><circle cx="403.80" cy="201.09" r="1.65" fill="#1b9fa6"/><circle cx="407.80" cy="201.09" r="1.65" fill="#242478"/><circle cx="411.80" cy="201.09" r="1.65" fill="#8a2c86"/><circle cx="415.80" cy="201.09" r="1.65" fill="#e0572e"/><text x="48.80" y="226.22" font-size="6.7" text-anchor="end" fill="#333" color="#333" font-weight="normal"  textLength="24.99" lengthAdjust="spacingAndGlyphs">Patient 5</text><rect x="52.3" y="220.12" width="400.90" height="8.0" fill="#fff"/><rect x="52.30" y="220.12" width="45.60" height="8.0" fill="#6cbd78"/><rect x="173.20" y="220.12" width="27.90" height="8.0" fill="#18a39a"/><rect x="218.00" y="220.12" width="2.00" height="8.0" fill="#383838"/><rect x="248.50" y="220.12" width="45.10" height="8.0" fill="#f5e512"/><rect x="352.70" y="220.12" width="39.30" height="8.0" fill="#9bc54c"/><rect x="443.50" y="220.12" width="9.70" height="8.0" fill="#ec3117"/><rect x="52.3" y="220.12" width="400.90" height="8.0" fill="none" stroke="#6a6a6a" stroke-width="0.9" stroke-opacity="0.85"/><line x1="52.30" y1="217.52" x2="52.30" y2="220.12" stroke="#444" stroke-width="0.7"/><text x="52.60" y="214.67" font-size="7.0" text-anchor="middle" fill="#333" color="#333" font-weight="normal"  textLength="3.50" lengthAdjust="spacingAndGlyphs">0</text><line x1="72.21" y1="217.52" x2="72.21" y2="220.12" stroke="#444" stroke-width="0.7"/><text x="72.51" y="214.67" font-size="7.0" text-anchor="middle" fill="#333" color="#333" font-weight="normal"  textLength="7.01" lengthAdjust="spacingAndGlyphs">65</text><line x1="92.12" y1="217.52" x2="92.12" y2="220.12" stroke="#444" stroke-width="0.7"/><text x="92.42" y="214.67" font-size="7.0" text-anchor="middle" fill="#333" color="#333" font-weight="normal"  textLength="10.51" lengthAdjust="spacingAndGlyphs">130</text><line x1="112.03" y1="217.52" x2="112.03" y2="220.12" stroke="#444" stroke-width="0.7"/><text x="112.33" y="214.67" font-size="7.0" text-anchor="middle" fill="#333" color="#333" font-weight="normal"  textLength="10.51" lengthAdjust="spacingAndGlyphs">195</text><line x1="131.94" y1="217.52" x2="131.94" y2="220.12" stroke="#444" stroke-width="0.7"/><text x="132.24" y="214.67" font-size="7.0" text-anchor="middle" fill="#333" color="#333" font-weight="normal"  textLength="10.51" lengthAdjust="spacingAndGlyphs">260</text><line x1="151.85" y1="217.52" x2="151.85" y2="220.12" stroke="#444" stroke-width="0.7"/><text x="152.15" y="214.67" font-size="7.0" text-anchor="middle" fill="#333" color="#333" font-weight="normal"  textLength="10.51" lengthAdjust="spacingAndGlyphs">325</text><line x1="171.76" y1="217.52" x2="171.76" y2="220.12" stroke="#444" stroke-width="0.7"/><text x="172.06" y="214.67" font-size="7.0" text-anchor="middle" fill="#333" color="#333" font-weight="normal"  textLength="10.51" lengthAdjust="spacingAndGlyphs">390</text><line x1="191.67" y1="217.52" x2="191.67" y2="220.12" stroke="#444" stroke-width="0.7"/><text x="191.97" y="214.67" font-size="7.0" text-anchor="middle" fill="#333" color="#333" font-weight="normal"  textLength="10.51" lengthAdjust="spacingAndGlyphs">455</text><line x1="211.58" y1="217.52" x2="211.58" y2="220.12" stroke="#444" stroke-width="0.7"/><text x="211.88" y="214.67" font-size="7.0" text-anchor="middle" fill="#333" color="#333" font-weight="normal"  textLength="10.51" lengthAdjust="spacingAndGlyphs">520</text><line x1="231.49" y1="217.52" x2="231.49" y2="220.12" stroke="#444" stroke-width="0.7"/><text x="231.79" y="214.67" font-size="7.0" text-anchor="middle" fill="#333" color="#333" font-weight="normal"  textLength="10.51" lengthAdjust="spacingAndGlyphs">585</text><line x1="251.40" y1="217.52" x2="251.40" y2="220.12" stroke="#444" stroke-width="0.7"/><text x="251.70" y="214.67" font-size="7.0" text-anchor="middle" fill="#333" color="#333" font-weight="normal"  textLength="10.51" lengthAdjust="spacingAndGlyphs">650</text><line x1="271.31" y1="217.52" x2="271.31" y2="220.12" stroke="#444" stroke-width="0.7"/><text x="271.61" y="214.67" font-size="7.0" text-anchor="middle" fill="#333" color="#333" font-weight="normal"  textLength="10.51" lengthAdjust="spacingAndGlyphs">715</text><line x1="291.22" y1="217.52" x2="291.22" y2="220.12" stroke="#444" stroke-width="0.7"/><text x="291.52" y="214.67" font-size="7.0" text-anchor="middle" fill="#333" color="#333" font-weight="normal"  textLength="10.51" lengthAdjust="spacingAndGlyphs">780</text><line x1="311.13" y1="217.52" x2="311.13" y2="220.12" stroke="#444" stroke-width="0.7"/><text x="311.43" y="214.67" font-size="7.0" text-anchor="middle" fill="#333" color="#333" font-weight="normal"  textLength="10.51" lengthAdjust="spacingAndGlyphs">845</text><line x1="331.04" y1="217.52" x2="331.04" y2="220.12" stroke="#444" stroke-width="0.7"/><text x="331.34" y="214.67" font-size="7.0" text-anchor="middle" fill="#333" color="#333" font-weight="normal"  textLength="10.51" lengthAdjust="spacingAndGlyphs">910</text><line x1="350.95" y1="217.52" x2="350.95" y2="220.12" stroke="#444" stroke-width="0.7"/><text x="351.25" y="214.67" font-size="7.0" text-anchor="middle" fill="#333" color="#333" font-weight="normal"  textLength="10.51" lengthAdjust="spacingAndGlyphs">975</text><line x1="370.86" y1="217.52" x2="370.86" y2="220.12" stroke="#444" stroke-width="0.7"/><text x="371.16" y="214.67" font-size="7.0" text-anchor="middle" fill="#333" color="#333" font-weight="normal"  textLength="14.02" lengthAdjust="spacingAndGlyphs">1040</text><line x1="390.77" y1="217.52" x2="390.77" y2="220.12" stroke="#444" stroke-width="0.7"/><text x="391.07" y="214.67" font-size="7.0" text-anchor="middle" fill="#333" color="#333" font-weight="normal"  textLength="14.02" lengthAdjust="spacingAndGlyphs">1105</text><line x1="410.68" y1="217.52" x2="410.68" y2="220.12" stroke="#444" stroke-width="0.7"/><text x="410.98" y="214.67" font-size="7.0" text-anchor="middle" fill="#333" color="#333" font-weight="normal"  textLength="14.02" lengthAdjust="spacingAndGlyphs">1170</text><line x1="430.59" y1="217.52" x2="430.59" y2="220.12" stroke="#444" stroke-width="0.7"/><text x="430.89" y="214.67" font-size="7.0" text-anchor="middle" fill="#333" color="#333" font-weight="normal"  textLength="14.02" lengthAdjust="spacingAndGlyphs">1235</text><line x1="450.50" y1="217.52" x2="450.50" y2="220.12" stroke="#444" stroke-width="0.7"/><text x="450.80" y="214.67" font-size="7.0" text-anchor="middle" fill="#333" color="#333" font-weight="normal"  textLength="14.02" lengthAdjust="spacingAndGlyphs">1300</text><rect x="219.60" y="221.42" width="3.40" height="5.4" fill="#fff" stroke="#333" stroke-width="0.6"/><polygon points="315.70,228.12 323.70,228.12 319.70,220.72" fill="#000"/><line x1="348.00" y1="228.12" x2="348.00" y2="238.12" stroke="#444" stroke-width="0.7"/><text x="348.00" y="244.42" font-size="6.6" text-anchor="middle" fill="#333" color="#333" font-weight="normal"  textLength="8.13" lengthAdjust="spacingAndGlyphs">5.1</text><circle cx="346.00" cy="247.72" r="1.65" fill="#1e8b3e"/><circle cx="350.50" cy="247.72" r="1.65" fill="#e0572e"/><line x1="450.40" y1="228.12" x2="450.40" y2="238.12" stroke="#444" stroke-width="0.7"/><text x="450.40" y="244.42" font-size="6.6" text-anchor="middle" fill="#333" color="#333" font-weight="normal"  textLength="8.13" lengthAdjust="spacingAndGlyphs">5.2</text><circle cx="448.50" cy="247.72" r="1.65" fill="#242478"/><circle cx="452.70" cy="247.72" r="1.65" fill="#e0572e"/><text x="48.80" y="272.85" font-size="6.7" text-anchor="end" fill="#333" color="#333" font-weight="normal"  textLength="24.99" lengthAdjust="spacingAndGlyphs">Patient 6</text><rect x="52.3" y="266.75" width="400.90" height="8.0" fill="#fff"/><rect x="52.30" y="266.75" width="9.60" height="8.0" fill="#138c50"/><rect x="191.20" y="266.75" width="6.40" height="8.0" fill="#168a50"/><rect x="372.00" y="266.75" width="6.75" height="8.0" fill="#fbfbe2"/><rect x="220.50" y="266.75" width="18.00" height="8.0" fill="#ef7235"/><rect x="293.20" y="266.75" width="35.80" height="8.0" fill="#ec3117"/><rect x="378.75" y="266.75" width="2.50" height="8.0" fill="#b6cc76"/><rect x="381.25" y="266.75" width="14.25" height="8.0" fill="#d5d5d5"/><rect x="430.00" y="266.75" width="13.75" height="8.0" fill="#d5d5d5"/><rect x="443.75" y="266.75" width="9.45" height="8.0" fill="#a9cbe8"/><rect x="52.3" y="266.75" width="400.90" height="8.0" fill="none" stroke="#6a6a6a" stroke-width="0.9" stroke-opacity="0.85"/><line x1="52.30" y1="264.15" x2="52.30" y2="266.75" stroke="#444" stroke-width="0.7"/><text x="52.60" y="261.30" font-size="7.0" text-anchor="middle" fill="#333" color="#333" font-weight="normal"  textLength="3.50" lengthAdjust="spacingAndGlyphs">0</text><line x1="72.28" y1="264.15" x2="72.28" y2="266.75" stroke="#444" stroke-width="0.7"/><text x="72.58" y="261.30" font-size="7.0" text-anchor="middle" fill="#333" color="#333" font-weight="normal"  textLength="10.51" lengthAdjust="spacingAndGlyphs">128</text><line x1="92.25" y1="264.15" x2="92.25" y2="266.75" stroke="#444" stroke-width="0.7"/><text x="92.55" y="261.30" font-size="7.0" text-anchor="middle" fill="#333" color="#333" font-weight="normal"  textLength="10.51" lengthAdjust="spacingAndGlyphs">255</text><line x1="112.22" y1="264.15" x2="112.22" y2="266.75" stroke="#444" stroke-width="0.7"/><text x="112.52" y="261.30" font-size="7.0" text-anchor="middle" fill="#333" color="#333" font-weight="normal"  textLength="10.51" lengthAdjust="spacingAndGlyphs">382</text><line x1="132.20" y1="264.15" x2="132.20" y2="266.75" stroke="#444" stroke-width="0.7"/><text x="132.50" y="261.30" font-size="7.0" text-anchor="middle" fill="#333" color="#333" font-weight="normal"  textLength="10.51" lengthAdjust="spacingAndGlyphs">510</text><line x1="152.18" y1="264.15" x2="152.18" y2="266.75" stroke="#444" stroke-width="0.7"/><text x="152.48" y="261.30" font-size="7.0" text-anchor="middle" fill="#333" color="#333" font-weight="normal"  textLength="10.51" lengthAdjust="spacingAndGlyphs">638</text><line x1="172.15" y1="264.15" x2="172.15" y2="266.75" stroke="#444" stroke-width="0.7"/><text x="172.45" y="261.30" font-size="7.0" text-anchor="middle" fill="#333" color="#333" font-weight="normal"  textLength="10.51" lengthAdjust="spacingAndGlyphs">765</text><line x1="192.12" y1="264.15" x2="192.12" y2="266.75" stroke="#444" stroke-width="0.7"/><text x="192.43" y="261.30" font-size="7.0" text-anchor="middle" fill="#333" color="#333" font-weight="normal"  textLength="10.51" lengthAdjust="spacingAndGlyphs">892</text><line x1="212.10" y1="264.15" x2="212.10" y2="266.75" stroke="#444" stroke-width="0.7"/><text x="212.40" y="261.30" font-size="7.0" text-anchor="middle" fill="#333" color="#333" font-weight="normal"  textLength="14.02" lengthAdjust="spacingAndGlyphs">1020</text><line x1="232.07" y1="264.15" x2="232.07" y2="266.75" stroke="#444" stroke-width="0.7"/><text x="232.38" y="261.30" font-size="7.0" text-anchor="middle" fill="#333" color="#333" font-weight="normal"  textLength="14.02" lengthAdjust="spacingAndGlyphs">1148</text><line x1="252.05" y1="264.15" x2="252.05" y2="266.75" stroke="#444" stroke-width="0.7"/><text x="252.35" y="261.30" font-size="7.0" text-anchor="middle" fill="#333" color="#333" font-weight="normal"  textLength="14.02" lengthAdjust="spacingAndGlyphs">1275</text><line x1="272.03" y1="264.15" x2="272.03" y2="266.75" stroke="#444" stroke-width="0.7"/><text x="272.33" y="261.30" font-size="7.0" text-anchor="middle" fill="#333" color="#333" font-weight="normal"  textLength="14.02" lengthAdjust="spacingAndGlyphs">1402</text><line x1="292.00" y1="264.15" x2="292.00" y2="266.75" stroke="#444" stroke-width="0.7"/><text x="292.30" y="261.30" font-size="7.0" text-anchor="middle" fill="#333" color="#333" font-weight="normal"  textLength="14.02" lengthAdjust="spacingAndGlyphs">1530</text><line x1="311.98" y1="264.15" x2="311.98" y2="266.75" stroke="#444" stroke-width="0.7"/><text x="312.28" y="261.30" font-size="7.0" text-anchor="middle" fill="#333" color="#333" font-weight="normal"  textLength="14.02" lengthAdjust="spacingAndGlyphs">1658</text><line x1="331.95" y1="264.15" x2="331.95" y2="266.75" stroke="#444" stroke-width="0.7"/><text x="332.25" y="261.30" font-size="7.0" text-anchor="middle" fill="#333" color="#333" font-weight="normal"  textLength="14.02" lengthAdjust="spacingAndGlyphs">1785</text><line x1="351.93" y1="264.15" x2="351.93" y2="266.75" stroke="#444" stroke-width="0.7"/><text x="352.23" y="261.30" font-size="7.0" text-anchor="middle" fill="#333" color="#333" font-weight="normal"  textLength="14.02" lengthAdjust="spacingAndGlyphs">1912</text><line x1="371.90" y1="264.15" x2="371.90" y2="266.75" stroke="#444" stroke-width="0.7"/><text x="372.20" y="261.30" font-size="7.0" text-anchor="middle" fill="#333" color="#333" font-weight="normal"  textLength="14.02" lengthAdjust="spacingAndGlyphs">2040</text><line x1="391.88" y1="264.15" x2="391.88" y2="266.75" stroke="#444" stroke-width="0.7"/><text x="392.18" y="261.30" font-size="7.0" text-anchor="middle" fill="#333" color="#333" font-weight="normal"  textLength="14.02" lengthAdjust="spacingAndGlyphs">2168</text><line x1="411.85" y1="264.15" x2="411.85" y2="266.75" stroke="#444" stroke-width="0.7"/><text x="412.15" y="261.30" font-size="7.0" text-anchor="middle" fill="#333" color="#333" font-weight="normal"  textLength="14.02" lengthAdjust="spacingAndGlyphs">2295</text><line x1="431.83" y1="264.15" x2="431.83" y2="266.75" stroke="#444" stroke-width="0.7"/><text x="432.13" y="261.30" font-size="7.0" text-anchor="middle" fill="#333" color="#333" font-weight="normal"  textLength="14.02" lengthAdjust="spacingAndGlyphs">2422</text><line x1="451.80" y1="264.15" x2="451.80" y2="266.75" stroke="#444" stroke-width="0.7"/><text x="452.10" y="261.30" font-size="7.0" text-anchor="middle" fill="#333" color="#333" font-weight="normal"  textLength="14.02" lengthAdjust="spacingAndGlyphs">2550</text><text x="348.20" y="291.05" font-size="6.6" text-anchor="middle" fill="#333" color="#333" font-weight="normal"  textLength="8.13" lengthAdjust="spacingAndGlyphs">6.1</text><circle cx="344.30" cy="294.35" r="1.65" fill="#1e8b3e"/><circle cx="348.20" cy="294.35" r="1.65" fill="#8a2c86"/><circle cx="352.30" cy="294.35" r="1.65" fill="#e0572e"/><text x="364.50" y="291.05" font-size="6.6" text-anchor="middle" fill="#333" color="#333" font-weight="normal"  textLength="8.13" lengthAdjust="spacingAndGlyphs">6.2</text><circle cx="358.75" cy="294.35" r="1.65" fill="#1b9fa6"/><circle cx="362.60" cy="294.35" r="1.65" fill="#242478"/><circle cx="366.40" cy="294.35" r="1.65" fill="#8a2c86"/><circle cx="370.30" cy="294.35" r="1.65" fill="#e0572e"/><line x1="378.90" y1="274.75" x2="378.90" y2="284.75" stroke="#444" stroke-width="0.7"/><text x="379.20" y="291.05" font-size="6.6" text-anchor="middle" fill="#333" color="#333" font-weight="normal"  textLength="8.13" lengthAdjust="spacingAndGlyphs">6.3</text><circle cx="376.00" cy="294.35" r="1.65" fill="#242478"/><circle cx="379.90" cy="294.35" r="1.65" fill="#8a2c86"/><circle cx="384.00" cy="294.35" r="1.65" fill="#e04848"/><path d="M359.5,274.75V276.75L349.1,284.35M359.5,276.75L364.5,284.35" stroke="#444" stroke-width="0.7" fill="none"/><text x="48.80" y="319.48" font-size="6.7" text-anchor="end" fill="#333" color="#333" font-weight="normal"  textLength="24.99" lengthAdjust="spacingAndGlyphs">Patient 7</text><rect x="52.3" y="313.38000000000005" width="400.80" height="8.0" fill="#fff"/><rect x="58.90" y="313.38000000000005" width="8.00" height="8.0" fill="#6cbd78"/><rect x="352.00" y="313.38000000000005" width="22.20" height="8.0" fill="#f5e512"/><rect x="403.40" y="313.38000000000005" width="9.70" height="8.0" fill="#111111"/><rect x="435.40" y="313.38000000000005" width="17.70" height="8.0" fill="#ec3117"/><rect x="52.3" y="313.38000000000005" width="400.80" height="8.0" fill="none" stroke="#6a6a6a" stroke-width="0.9" stroke-opacity="0.85"/><line x1="52.30" y1="310.78" x2="52.30" y2="313.38" stroke="#444" stroke-width="0.7"/><text x="52.60" y="307.93" font-size="7.0" text-anchor="middle" fill="#333" color="#333" font-weight="normal"  textLength="3.50" lengthAdjust="spacingAndGlyphs">0</text><line x1="72.24" y1="310.78" x2="72.24" y2="313.38" stroke="#444" stroke-width="0.7"/><text x="72.54" y="307.93" font-size="7.0" text-anchor="middle" fill="#333" color="#333" font-weight="normal"  textLength="10.51" lengthAdjust="spacingAndGlyphs">102</text><line x1="92.18" y1="310.78" x2="92.18" y2="313.38" stroke="#444" stroke-width="0.7"/><text x="92.48" y="307.93" font-size="7.0" text-anchor="middle" fill="#333" color="#333" font-weight="normal"  textLength="10.51" lengthAdjust="spacingAndGlyphs">203</text><line x1="112.12" y1="310.78" x2="112.12" y2="313.38" stroke="#444" stroke-width="0.7"/><text x="112.42" y="307.93" font-size="7.0" text-anchor="middle" fill="#333" color="#333" font-weight="normal"  textLength="10.51" lengthAdjust="spacingAndGlyphs">304</text><line x1="132.06" y1="310.78" x2="132.06" y2="313.38" stroke="#444" stroke-width="0.7"/><text x="132.36" y="307.93" font-size="7.0" text-anchor="middle" fill="#333" color="#333" font-weight="normal"  textLength="10.51" lengthAdjust="spacingAndGlyphs">406</text><line x1="152.00" y1="310.78" x2="152.00" y2="313.38" stroke="#444" stroke-width="0.7"/><text x="152.30" y="307.93" font-size="7.0" text-anchor="middle" fill="#333" color="#333" font-weight="normal"  textLength="10.51" lengthAdjust="spacingAndGlyphs">508</text><line x1="171.94" y1="310.78" x2="171.94" y2="313.38" stroke="#444" stroke-width="0.7"/><text x="172.24" y="307.93" font-size="7.0" text-anchor="middle" fill="#333" color="#333" font-weight="normal"  textLength="10.51" lengthAdjust="spacingAndGlyphs">609</text><line x1="191.88" y1="310.78" x2="191.88" y2="313.38" stroke="#444" stroke-width="0.7"/><text x="192.18" y="307.93" font-size="7.0" text-anchor="middle" fill="#333" color="#333" font-weight="normal"  textLength="10.51" lengthAdjust="spacingAndGlyphs">710</text><line x1="211.82" y1="310.78" x2="211.82" y2="313.38" stroke="#444" stroke-width="0.7"/><text x="212.12" y="307.93" font-size="7.0" text-anchor="middle" fill="#333" color="#333" font-weight="normal"  textLength="10.51" lengthAdjust="spacingAndGlyphs">812</text><line x1="231.76" y1="310.78" x2="231.76" y2="313.38" stroke="#444" stroke-width="0.7"/><text x="232.06" y="307.93" font-size="7.0" text-anchor="middle" fill="#333" color="#333" font-weight="normal"  textLength="10.51" lengthAdjust="spacingAndGlyphs">914</text><line x1="251.70" y1="310.78" x2="251.70" y2="313.38" stroke="#444" stroke-width="0.7"/><text x="252.00" y="307.93" font-size="7.0" text-anchor="middle" fill="#333" color="#333" font-weight="normal"  textLength="14.02" lengthAdjust="spacingAndGlyphs">1015</text><line x1="271.64" y1="310.78" x2="271.64" y2="313.38" stroke="#444" stroke-width="0.7"/><text x="271.94" y="307.93" font-size="7.0" text-anchor="middle" fill="#333" color="#333" font-weight="normal"  textLength="14.02" lengthAdjust="spacingAndGlyphs">1116</text><line x1="291.58" y1="310.78" x2="291.58" y2="313.38" stroke="#444" stroke-width="0.7"/><text x="291.88" y="307.93" font-size="7.0" text-anchor="middle" fill="#333" color="#333" font-weight="normal"  textLength="14.02" lengthAdjust="spacingAndGlyphs">1218</text><line x1="311.52" y1="310.78" x2="311.52" y2="313.38" stroke="#444" stroke-width="0.7"/><text x="311.82" y="307.93" font-size="7.0" text-anchor="middle" fill="#333" color="#333" font-weight="normal"  textLength="14.02" lengthAdjust="spacingAndGlyphs">1320</text><line x1="331.46" y1="310.78" x2="331.46" y2="313.38" stroke="#444" stroke-width="0.7"/><text x="331.76" y="307.93" font-size="7.0" text-anchor="middle" fill="#333" color="#333" font-weight="normal"  textLength="14.02" lengthAdjust="spacingAndGlyphs">1421</text><line x1="351.40" y1="310.78" x2="351.40" y2="313.38" stroke="#444" stroke-width="0.7"/><text x="351.70" y="307.93" font-size="7.0" text-anchor="middle" fill="#333" color="#333" font-weight="normal"  textLength="14.02" lengthAdjust="spacingAndGlyphs">1522</text><line x1="371.34" y1="310.78" x2="371.34" y2="313.38" stroke="#444" stroke-width="0.7"/><text x="371.64" y="307.93" font-size="7.0" text-anchor="middle" fill="#333" color="#333" font-weight="normal"  textLength="14.02" lengthAdjust="spacingAndGlyphs">1624</text><line x1="391.28" y1="310.78" x2="391.28" y2="313.38" stroke="#444" stroke-width="0.7"/><text x="391.58" y="307.93" font-size="7.0" text-anchor="middle" fill="#333" color="#333" font-weight="normal"  textLength="14.02" lengthAdjust="spacingAndGlyphs">1726</text><line x1="411.22" y1="310.78" x2="411.22" y2="313.38" stroke="#444" stroke-width="0.7"/><text x="411.52" y="307.93" font-size="7.0" text-anchor="middle" fill="#333" color="#333" font-weight="normal"  textLength="14.02" lengthAdjust="spacingAndGlyphs">1827</text><line x1="431.16" y1="310.78" x2="431.16" y2="313.38" stroke="#444" stroke-width="0.7"/><text x="431.46" y="307.93" font-size="7.0" text-anchor="middle" fill="#333" color="#333" font-weight="normal"  textLength="14.02" lengthAdjust="spacingAndGlyphs">1928</text><line x1="451.10" y1="310.78" x2="451.10" y2="313.38" stroke="#444" stroke-width="0.7"/><text x="451.40" y="307.93" font-size="7.0" text-anchor="middle" fill="#333" color="#333" font-weight="normal"  textLength="14.02" lengthAdjust="spacingAndGlyphs">2030</text><text x="434.40" y="337.68" font-size="6.6" text-anchor="middle" fill="#333" color="#333" font-weight="normal"  textLength="8.13" lengthAdjust="spacingAndGlyphs">7.1</text><circle cx="429.10" cy="340.98" r="1.65" fill="#1e8b3e"/><circle cx="433.00" cy="340.98" r="1.65" fill="#1b9fa6"/><circle cx="437.10" cy="340.98" r="1.65" fill="#242478"/><circle cx="441.00" cy="340.98" r="1.65" fill="#e04848"/><text x="457.70" y="337.68" font-size="6.6" text-anchor="middle" fill="#333" color="#333" font-weight="normal"  textLength="8.13" lengthAdjust="spacingAndGlyphs">7.2</text><circle cx="453.50" cy="340.98" r="1.65" fill="#1e8b3e"/><circle cx="457.50" cy="340.98" r="1.65" fill="#242478"/><circle cx="461.50" cy="340.98" r="1.65" fill="#e0572e"/><path d="M450.6,321.38V323.38L434.9,330.98M450.6,323.38L458.0,330.98" stroke="#444" stroke-width="0.7" fill="none"/><text x="456.00" y="32.00" font-size="6.7" text-anchor="start" fill="#333" color="#333" font-weight="normal"  textLength="56.50" lengthAdjust="spacingAndGlyphs">Days post diagnosis</text><text x="456.00" y="39.50" font-size="6.7" text-anchor="start" fill="#333" color="#333" font-weight="normal"  textLength="52.80" lengthAdjust="spacingAndGlyphs">Treatments/events</text><text x="456.00" y="55.60" font-size="6.7" text-anchor="start" fill="#333" color="#333" font-weight="normal"  textLength="29.00" lengthAdjust="spacingAndGlyphs">Sample ID</text><text x="456.00" y="62.70" font-size="6.7" text-anchor="start" fill="#333" color="#333" font-weight="normal"  textLength="25.00" lengthAdjust="spacingAndGlyphs">Methods</text><text x="37.90" y="339.60" font-size="6.6" text-anchor="start" fill="#333" color="#333" font-weight="normal"  textLength="27.00" lengthAdjust="spacingAndGlyphs">Diagnosis</text><text x="210.30" y="350.10" font-size="8.6" text-anchor="middle" fill="#222" color="#222" font-weight="normal"  textLength="66.00" lengthAdjust="spacingAndGlyphs">Treatments/events</text><rect x="96.5" y="359.9" width="6" height="6" fill="#ec3117"/><text x="105.60" y="366.10" font-size="8.7" text-anchor="start" fill="#222" color="#222" font-weight="normal"  textLength="93.30" lengthAdjust="spacingAndGlyphs">CD20-targeted bispecifics</text><polygon points="215.8,365.7 224.8,365.7 220.3,357.8" fill="#000"/><text x="227.10" y="366.10" font-size="8.7" text-anchor="start" fill="#222" color="#222" font-weight="normal"  textLength="91.00" lengthAdjust="spacingAndGlyphs">CD19 CAR T cell infusion</text><rect x="96.20" y="373.40" width="5" height="5" fill="#111111"/><text x="104.20" y="378.20" font-size="6.7" text-anchor="start" fill="#333" color="#333" font-weight="normal"  textLength="25.36" lengthAdjust="spacingAndGlyphs">Tafa/Rev</text><rect x="96.20" y="383.37" width="5" height="5" fill="#18a39a"/><text x="104.20" y="388.17" font-size="6.7" text-anchor="start" fill="#333" color="#333" font-weight="normal"  textLength="23.96" lengthAdjust="spacingAndGlyphs">R-DHAP</text><rect x="96.20" y="393.34" width="5" height="5" fill="#d5d5d5"/><text x="104.20" y="398.14" font-size="6.7" text-anchor="start" fill="#333" color="#333" font-weight="normal"  textLength="17.71" lengthAdjust="spacingAndGlyphs">R-Rev</text><rect x="96.20" y="403.31" width="5" height="5" fill="#a6b8d6"/><text x="104.20" y="408.11" font-size="6.7" text-anchor="start" fill="#333" color="#333" font-weight="normal"  textLength="29.88" lengthAdjust="spacingAndGlyphs">Pixantrone</text><rect x="96.20" y="413.28" width="5" height="5" fill="#2a1e78"/><text x="104.20" y="418.08" font-size="6.7" text-anchor="start" fill="#333" color="#333" font-weight="normal"  textLength="17.36" lengthAdjust="spacingAndGlyphs">DHAP</text><rect x="96.20" y="423.25" width="5" height="5" fill="#b3cbe4"/><text x="104.20" y="428.05" font-size="6.7" text-anchor="start" fill="#333" color="#333" font-weight="normal"  textLength="20.15" lengthAdjust="spacingAndGlyphs">Zydelig</text><rect x="154.30" y="373.40" width="5" height="5" fill="#e8665a"/><text x="162.00" y="378.20" font-size="6.7" text-anchor="start" fill="#333" color="#333" font-weight="normal"  textLength="27.79" lengthAdjust="spacingAndGlyphs">Rituximab</text><rect x="154.30" y="383.37" width="5" height="5" fill="#1b7a4c"/><text x="162.00" y="388.17" font-size="6.7" text-anchor="start" fill="#333" color="#333" font-weight="normal"  textLength="24.67" lengthAdjust="spacingAndGlyphs">R-Benda</text><rect x="154.30" y="393.34" width="5" height="5" fill="#17975b"/><text x="162.00" y="398.14" font-size="6.7" text-anchor="start" fill="#333" color="#333" font-weight="normal"  textLength="25.02" lengthAdjust="spacingAndGlyphs">O-Benda</text><rect x="154.30" y="403.31" width="5" height="5" fill="#eab4c6"/><text x="162.00" y="408.11" font-size="6.7" text-anchor="start" fill="#333" color="#333" font-weight="normal"  textLength="21.88" lengthAdjust="spacingAndGlyphs">MTX/Ifo</text><rect x="154.30" y="413.28" width="5" height="5" fill="#6f7a94"/><text x="162.00" y="418.08" font-size="6.7" text-anchor="start" fill="#333" color="#333" font-weight="normal"  textLength="13.54" lengthAdjust="spacingAndGlyphs">FCM</text><rect x="154.60" y="423.75" width="4" height="4" fill="#fff" stroke="#222" stroke-width="0.6"/><text x="162.00" y="428.05" font-size="6.7" text-anchor="start" fill="#333" color="#333" font-weight="normal"  textLength="21.54" lengthAdjust="spacingAndGlyphs">Auto Tx</text><rect x="212.00" y="373.40" width="5" height="5" fill="#74b084"/><text x="220.00" y="378.20" font-size="6.7" text-anchor="start" fill="#333" color="#333" font-weight="normal"  textLength="24.65" lengthAdjust="spacingAndGlyphs">R-CHOP</text><rect x="212.00" y="383.37" width="5" height="5" fill="#86b552"/><text x="220.00" y="388.17" font-size="6.7" text-anchor="start" fill="#333" color="#333" font-weight="normal"  textLength="19.10" lengthAdjust="spacingAndGlyphs">R-Pola</text><rect x="212.00" y="393.34" width="5" height="5" fill="#dcc0dc"/><text x="220.00" y="398.14" font-size="6.7" text-anchor="start" fill="#333" color="#333" font-weight="normal"  textLength="17.36" lengthAdjust="spacingAndGlyphs">O-ICE</text><rect x="212.00" y="403.31" width="5" height="5" fill="#d79fb0"/><text x="220.00" y="408.11" font-size="6.7" text-anchor="start" fill="#333" color="#333" font-weight="normal"  textLength="32.64" lengthAdjust="spacingAndGlyphs">MTX/Cis/Ifo</text><rect x="212.00" y="413.28" width="5" height="5" fill="#b6cc76"/><text x="220.00" y="418.08" font-size="6.7" text-anchor="start" fill="#333" color="#333" font-weight="normal"  textLength="32.32" lengthAdjust="spacingAndGlyphs">Pola/Benda</text><circle cx="214.25" cy="425.75" r="1.9" fill="#000"/><text x="220.00" y="428.05" font-size="6.7" text-anchor="start" fill="#333" color="#333" font-weight="normal"  textLength="19.10" lengthAdjust="spacingAndGlyphs">Allo Tx</text><rect x="270.40" y="373.40" width="5" height="5" fill="#7b2d7b"/><text x="278.00" y="378.20" font-size="6.7" text-anchor="start" fill="#333" color="#333" font-weight="normal"  textLength="28.82" lengthAdjust="spacingAndGlyphs">R-CHOEP</text><rect x="270.40" y="383.37" width="5" height="5" fill="#f3e521"/><text x="278.00" y="388.17" font-size="6.7" text-anchor="start" fill="#333" color="#333" font-weight="normal"  textLength="28.12" lengthAdjust="spacingAndGlyphs">R-GemOx</text><rect x="270.40" y="393.34" width="5" height="5" fill="#383838"/><text x="278.00" y="398.14" font-size="6.7" text-anchor="start" fill="#333" color="#333" font-weight="normal"  textLength="28.82" lengthAdjust="spacingAndGlyphs">HD-BEAM</text><rect x="270.40" y="403.31" width="5" height="5" fill="#5cc19f"/><text x="278.00" y="408.11" font-size="6.7" text-anchor="start" fill="#333" color="#333" font-weight="normal"  textLength="47.23" lengthAdjust="spacingAndGlyphs">MTX/DexaBEAM</text><rect x="270.40" y="413.28" width="5" height="5" fill="#e3a63a"/><text x="278.00" y="418.08" font-size="6.7" text-anchor="start" fill="#333" color="#333" font-weight="normal"  textLength="23.97" lengthAdjust="spacingAndGlyphs">Pred/Vin</text><path d="M270.40,425.75H274.90M272.65,423.50V428.00" stroke="#6a7a70" stroke-width="0.7"/><text x="278.00" y="428.05" font-size="6.7" text-anchor="start" fill="#333" color="#333" font-weight="normal"  textLength="42.03" lengthAdjust="spacingAndGlyphs">Transformation</text><text x="376.00" y="350.10" font-size="8.7" text-anchor="start" fill="#222" color="#222" font-weight="normal"  textLength="31.80" lengthAdjust="spacingAndGlyphs">Methods</text><circle cx="351" cy="360.2" r="1.7" fill="#1e8b3e"/><text x="355.90" y="362.60" font-size="6.8" text-anchor="start" fill="#333" color="#333" font-weight="normal"  textLength="58.16" lengthAdjust="spacingAndGlyphs">Single-cell RNA-seq</text><circle cx="351" cy="368.0" r="1.7" fill="#1b9fa6"/><text x="355.90" y="370.40" font-size="6.8" text-anchor="start" fill="#333" color="#333" font-weight="normal"  textLength="40.82" lengthAdjust="spacingAndGlyphs">Bulk RNA-seq</text><circle cx="351" cy="375.7" r="1.7" fill="#242478"/><text x="355.90" y="378.10" font-size="6.8" text-anchor="start" fill="#333" color="#333" font-weight="normal"  textLength="74.79" lengthAdjust="spacingAndGlyphs">Whole exome sequencing</text><circle cx="351" cy="383.5" r="1.7" fill="#8a2c86"/><text x="355.90" y="385.90" font-size="6.8" text-anchor="start" fill="#333" color="#333" font-weight="normal"  textLength="45.14" lengthAdjust="spacingAndGlyphs">Flow Cytometry</text><circle cx="351" cy="391.0" r="1.7" fill="#e0572e"/><text x="355.90" y="393.40" font-size="6.8" text-anchor="start" fill="#333" color="#333" font-weight="normal"  textLength="65.02" lengthAdjust="spacingAndGlyphs">Immunohistochemistry</text><text x="6.60" y="17.00" font-size="12.2" text-anchor="start" fill="#000" color="#000" font-weight="bold" >A</text><text x="6.70" y="459.00" font-size="11.5" text-anchor="start" fill="#000" color="#000" font-weight="bold" >B</text><line x1="64.7" y1="465.3" x2="64.7" y2="517.3" stroke="#1e1e1e" stroke-width="1"/><line x1="127.8" y1="465.3" x2="127.8" y2="517.3" stroke="#1e1e1e" stroke-width="1"/><line x1="192.0" y1="465.3" x2="192.0" y2="517.3" stroke="#1e1e1e" stroke-width="1"/><line x1="254.5" y1="465.3" x2="254.5" y2="517.3" stroke="#1e1e1e" stroke-width="1"/><line x1="318.1" y1="465.3" x2="318.1" y2="517.3" stroke="#1e1e1e" stroke-width="1"/><line x1="381.6" y1="465.3" x2="381.6" y2="517.3" stroke="#1e1e1e" stroke-width="1"/><line x1="444.2" y1="465.3" x2="444.2" y2="517.3" stroke="#1e1e1e" stroke-width="1"/><line x1="14.6" y1="482.5" x2="507.5" y2="482.5" stroke="#1e1e1e" stroke-width="1"/><line x1="14.6" y1="499.8" x2="507.5" y2="499.8" stroke="#1e1e1e" stroke-width="1.3"/><rect x="14.6" y="465.3" width="492.9" height="51.99999999999994" fill="none" stroke="#1e1e1e" stroke-width="1.1"/><text x="39.65" y="476.30" font-size="6.8" text-anchor="middle" fill="#333" color="#333" font-weight="normal"  textLength="24.67" lengthAdjust="spacingAndGlyphs">Patient #</text><text x="96.25" y="476.30" font-size="6.8" text-anchor="middle" fill="#333" color="#333" font-weight="normal"  textLength="24.67" lengthAdjust="spacingAndGlyphs">Patient 1</text><text x="159.90" y="476.30" font-size="6.8" text-anchor="middle" fill="#333" color="#333" font-weight="normal"  textLength="24.67" lengthAdjust="spacingAndGlyphs">Patient 2</text><text x="223.25" y="476.30" font-size="6.8" text-anchor="middle" fill="#333" color="#333" font-weight="normal"  textLength="24.67" lengthAdjust="spacingAndGlyphs">Patient 3</text><text x="286.30" y="476.30" font-size="6.8" text-anchor="middle" fill="#333" color="#333" font-weight="normal"  textLength="24.67" lengthAdjust="spacingAndGlyphs">Patient 4</text><text x="349.85" y="476.30" font-size="6.8" text-anchor="middle" fill="#333" color="#333" font-weight="normal"  textLength="24.67" lengthAdjust="spacingAndGlyphs">Patient 5</text><text x="412.90" y="476.30" font-size="6.8" text-anchor="middle" fill="#333" color="#333" font-weight="normal"  textLength="24.67" lengthAdjust="spacingAndGlyphs">Patient 6</text><text x="475.85" y="476.30" font-size="6.8" text-anchor="middle" fill="#333" color="#333" font-weight="normal"  textLength="24.67" lengthAdjust="spacingAndGlyphs">Patient 7</text><text x="39.65" y="493.55" font-size="6.8" text-anchor="middle" fill="#333" color="#333" font-weight="normal"  textLength="38.21" lengthAdjust="spacingAndGlyphs">CD20 relapse</text><text x="96.25" y="493.55" font-size="6.8" text-anchor="middle" fill="#333" color="#333" font-weight="normal"  textLength="49.54" lengthAdjust="spacingAndGlyphs">Antigen negative</text><text x="159.90" y="493.55" font-size="6.8" text-anchor="middle" fill="#333" color="#333" font-weight="normal"  textLength="46.95" lengthAdjust="spacingAndGlyphs">Antigen positive</text><text x="223.25" y="493.55" font-size="6.8" text-anchor="middle" fill="#333" color="#333" font-weight="normal"  textLength="49.54" lengthAdjust="spacingAndGlyphs">Antigen negative</text><text x="286.30" y="493.55" font-size="6.8" text-anchor="middle" fill="#333" color="#333" font-weight="normal"  textLength="1.85" lengthAdjust="spacingAndGlyphs">/</text><text x="349.85" y="489.65" font-size="6.8" text-anchor="middle" fill="#333" color="#333" font-weight="normal"  textLength="1.85" lengthAdjust="spacingAndGlyphs">/</text><text x="349.85" y="496.85" font-size="6.8" text-anchor="middle" fill="#333" color="#333" font-weight="normal"  textLength="17.43" lengthAdjust="spacingAndGlyphs">(Died)</text><text x="412.90" y="493.55" font-size="6.8" text-anchor="middle" fill="#333" color="#333" font-weight="normal"  textLength="49.54" lengthAdjust="spacingAndGlyphs">Antigen negative</text><text x="475.85" y="493.55" font-size="6.8" text-anchor="middle" fill="#333" color="#333" font-weight="normal"  textLength="46.95" lengthAdjust="spacingAndGlyphs">Antigen positive</text><text x="39.65" y="510.95" font-size="6.8" text-anchor="middle" fill="#333" color="#333" font-weight="normal"  textLength="38.21" lengthAdjust="spacingAndGlyphs">CD19 relapse</text><text x="96.25" y="510.95" font-size="6.8" text-anchor="middle" fill="#333" color="#333" font-weight="normal"  textLength="49.54" lengthAdjust="spacingAndGlyphs">Antigen negative</text><text x="159.90" y="507.05" font-size="6.8" text-anchor="middle" fill="#333" color="#333" font-weight="normal"  textLength="46.95" lengthAdjust="spacingAndGlyphs">Antigen positive</text><text x="159.90" y="514.25" font-size="6.8" text-anchor="middle" fill="#333" color="#333" font-weight="normal"  textLength="46.60" lengthAdjust="spacingAndGlyphs">(CD20 negative)</text><text x="223.25" y="510.95" font-size="6.8" text-anchor="middle" fill="#333" color="#333" font-weight="normal"  textLength="1.85" lengthAdjust="spacingAndGlyphs">/</text><text x="286.30" y="510.95" font-size="6.8" text-anchor="middle" fill="#333" color="#333" font-weight="normal"  textLength="49.54" lengthAdjust="spacingAndGlyphs">Antigen negative</text><text x="349.85" y="510.95" font-size="6.8" text-anchor="middle" fill="#333" color="#333" font-weight="normal"  textLength="46.95" lengthAdjust="spacingAndGlyphs">Antigen positive</text><text x="412.90" y="510.95" font-size="6.8" text-anchor="middle" fill="#333" color="#333" font-weight="normal"  textLength="1.85" lengthAdjust="spacingAndGlyphs">/</text><text x="475.85" y="507.05" font-size="6.8" text-anchor="middle" fill="#333" color="#333" font-weight="normal"  textLength="46.95" lengthAdjust="spacingAndGlyphs">Antigen positive</text><text x="475.85" y="514.25" font-size="6.8" text-anchor="middle" fill="#333" color="#333" font-weight="normal"  textLength="35.56" lengthAdjust="spacingAndGlyphs">(CD19 mAb)</text><rect x="0.5" y="0.5" width="519" height="523" fill="none" stroke="#5a5a5a" stroke-width="1"/></svg>
</body></html>
